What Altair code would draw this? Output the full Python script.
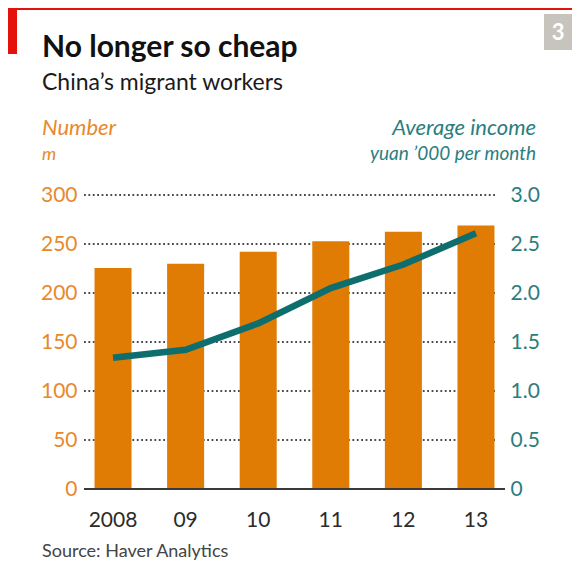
import altair as alt
import pandas as pd

# ---- data ----
years = ["2008", "09", "10", "11", "12", "13"]
workers_m = [225.4, 229.8, 242.2, 252.8, 262.6, 268.9]
income_k = [1.34, 1.42, 1.69, 2.05, 2.29, 2.61]
left_ticks = [0, 50, 100, 150, 200, 250, 300]
right_ticks = [0, 0.5, 1.0, 1.5, 2.0, 2.5, 3.0]
grid_values = [50, 100, 150, 200, 250, 300]
baseline_value = [0]

title_text = "No longer so cheap"
subtitle_text = "China\u2019s migrant workers"
left_title = "Number"
left_unit = "m"
right_title = "Average income"
right_unit = "yuan \u2019000 per month"
source_text = "Source: Haver Analytics"
chart_no = "3"

# ---- styles ----
FONT = "Lato"
ORANGE_BAR = "#e07b03"
ORANGE_TXT = "#e8892c"
TEAL_LINE = "#0e6e6d"
TEAL_TXT = "#2a7e7f"
DARK = "#2b2b2b"
RED = "#e3120b"
W, H = 421, 294

df = pd.DataFrame({"year": years, "workers": workers_m, "income": income_k})
grid_df = pd.DataFrame({"v": grid_values})
base_df = pd.DataFrame({"v": baseline_value})
one = pd.DataFrame({"k": [0]})

x_enc = alt.X(
    "year:N", sort=years,
    scale=alt.Scale(paddingInner=0.49, paddingOuter=0.145),
    axis=alt.Axis(title=None, labelAngle=0, labelFont=FONT, labelFontSize=21,
                  labelColor=DARK, ticks=False, domain=False, labelPadding=20),
)


def yscale():
    return alt.Scale(domain=[0, 300], nice=False)


grid = alt.Chart(grid_df).mark_rule(
    color="#4a4a4a", strokeWidth=1.8, strokeDash=[1.8, 2.6]
).encode(
    y=alt.Y("v:Q", scale=yscale(), axis=None),
    x=alt.value(0), x2=alt.value(W - 8),
)

bars = alt.Chart(df).mark_bar(color=ORANGE_BAR).encode(
    x=x_enc,
    y=alt.Y("workers:Q", scale=yscale(),
            axis=alt.Axis(orient="left", values=left_ticks, title=None,
                          labelColor=ORANGE_TXT, labelFont=FONT, labelFontSize=21,
                          ticks=False, domain=False, grid=False, labelPadding=7)),
)

baseline = alt.Chart(base_df).mark_rule(color="#3a3a3a", strokeWidth=2).encode(
    y=alt.Y("v:Q", scale=yscale(), axis=None),
    x=alt.value(0), x2=alt.value(W),
)

line = alt.Chart(df).mark_line(color=TEAL_LINE, strokeWidth=6.5, strokeCap="butt").encode(
    x=x_enc,
    y=alt.Y("income:Q", scale=alt.Scale(domain=[0, 3], nice=False),
            axis=alt.Axis(orient="right", values=right_ticks, title=None,
                          labelColor=TEAL_TXT, labelFont=FONT, labelFontSize=21,
                          ticks=False, domain=False, grid=False, labelPadding=5,
                          labelExpr="datum.value == 0 ? '0' : format(datum.value, '.1f')")),
)


def txt(text, x, y, size, color, weight="normal", style="normal", align="left"):
    return alt.Chart(one).mark_text(
        text=text, font=FONT, fontSize=size, color=color, fontWeight=weight,
        fontStyle=style, align=align, baseline="alphabetic",
    ).encode(x=alt.value(x), y=alt.value(y))


def box(x, x2, y, y2, color):
    return alt.Chart(one).mark_rect(color=color).encode(
        x=alt.value(x), x2=alt.value(x2), y=alt.value(y), y2=alt.value(y2))


deco = [
    box(-76, 488, -187, -185, RED),
    box(-76, -67, -187, -141, RED),
    box(460, 488, -181, -145, "#c6c4bc"),
    txt(chart_no, 474, -155, 22, "white", weight="bold", align="center"),
    txt(title_text, -42, -138, 30, "#111111", weight="bold"),
    txt(subtitle_text, -42, -105, 23, "#1a1a1a"),
    txt(left_title, -42, -60, 22, ORANGE_TXT, style="italic"),
    txt(left_unit, -42, -35, 18, ORANGE_TXT, style="italic"),
    txt(right_title, 452, -60, 22, TEAL_TXT, style="italic", align="right"),
    txt(right_unit, 452, -35, 19, TEAL_TXT, style="italic", align="right"),
    txt(source_text, -42, 362, 18, "#444444"),
]

chart = alt.layer(grid, bars, baseline, line, *deco).resolve_scale(
    y="independent"
).properties(
    width=W, height=H,
    autosize=alt.AutoSizeParams(type="none"),
    padding={"left": 76, "top": 187, "right": 67, "bottom": 73},
    background="white",
).configure_view(stroke=None)

chart.save("out.html", embed_options={"renderer": "svg", "actions": False})
